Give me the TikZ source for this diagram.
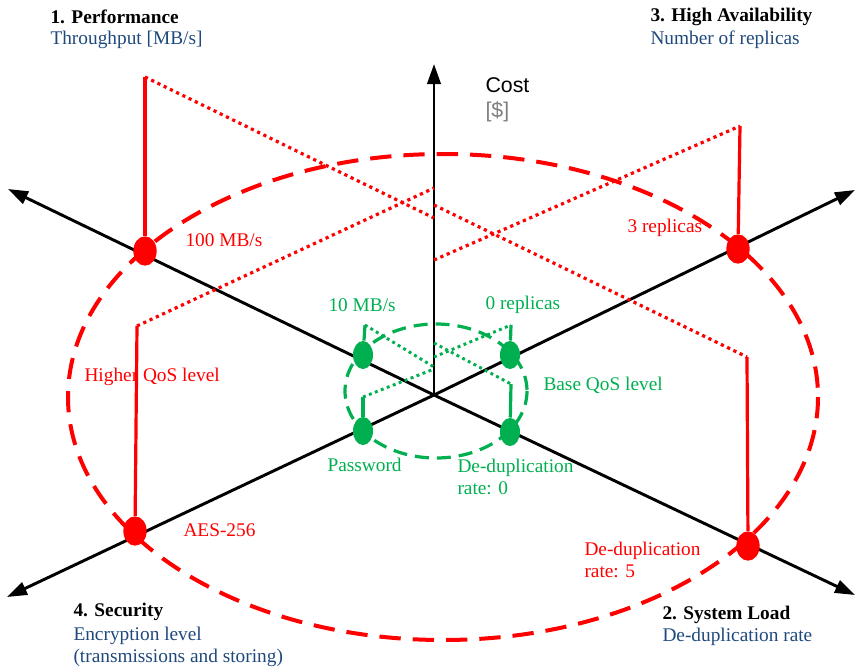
\documentclass[tikz,border=0pt]{standalone}
\usepackage{fontspec}
\setmainfont{Liberation Serif}
\setsansfont{Liberation Sans}
\usetikzlibrary{arrows.meta,shapes.geometric}

\definecolor{qred}{RGB}{255,0,0}
\definecolor{qgreen}{RGB}{0,176,80}
\definecolor{axisblue}{RGB}{31,73,125}
\definecolor{unitgrey}{RGB}{127,127,127}

\tikzset{every picture/.style={line width=0.75pt}}
\tikzset{
  axisline/.style={line width=2.2pt, black, -{Triangle[length=15pt,width=10pt]}},
  redring/.style={qred, line width=3pt, dash pattern=on 16pt off 9pt},
  greenring/.style={qgreen, line width=2.4pt, dash pattern=on 10.5pt off 6pt},
  redstem/.style={qred, line width=2.4pt},
  greenstem/.style={qgreen, line width=2.4pt},
  redlink/.style={qred, line width=2.4pt, dash pattern=on 2.4pt off 2.8pt},
  greenlink/.style={qgreen, line width=2.2pt, dash pattern=on 2.2pt off 2.6pt},
  redpin/.style={ellipse, fill=qred, minimum width=17.5pt, minimum height=22pt, inner sep=0pt},
  greenpin/.style={ellipse, fill=qgreen, minimum width=15pt, minimum height=21pt, inner sep=0pt},
  lbl/.style={anchor=west, inner sep=0pt, align=left, font=\fontsize{14.5}{16.5}\selectfont},
  head/.style={lbl, font=\fontsize{14.5}{16.5}\selectfont\bfseries},
  sub/.style={lbl, text=axisblue},
  redlbl/.style={lbl, text=qred},
  greenlbl/.style={lbl, text=qgreen},
  costlbl/.style={anchor=west, inner sep=0pt, font=\sffamily\fontsize{16}{18}\selectfont}
}

\begin{document}
\begin{tikzpicture}[x=0.75pt,y=0.75pt,yscale=-1,xscale=1]
\useasboundingbox (0,0) rectangle (856,671);

% axes
\coordinate (o) at (434,395);
\coordinate (costend) at (434,64);
\coordinate (perfend) at (8,189);
\coordinate (loadend) at (855,595);
\coordinate (secuend) at (7,597);
\coordinate (availend) at (855,190);

% QoS rings
\draw[redring] (443,397) ellipse [x radius=375, y radius=243];
\draw[greenring] (436,391) ellipse [x radius=91, y radius=67];

\draw[axisline] (o) -- (costend);
\draw[axisline] (o) -- (perfend);
\draw[axisline] (o) -- (loadend);
\draw[axisline] (o) -- (secuend);
\draw[axisline] (o) -- (availend);

% higher QoS level
\node[redpin] (perf) at (145,251) {};
\node[redpin] (avail) at (738,249) {};
\node[redpin] (secu) at (135,531) {};
\node[redpin] (load) at (748,546) {};
\coordinate (perftop) at (145,77);
\coordinate (availtop) at (740,126);
\coordinate (secutop) at (137,326);
\coordinate (loadtop) at (747,357);
\coordinate (costp) at (434,218);
\coordinate (costl) at (434,205);
\coordinate (costs) at (434,188);
\coordinate (costa) at (434,260);

\draw[redstem] (perf) -- (perftop);
\draw[redstem] (avail) -- (availtop);
\draw[redstem] (secu) -- (secutop);
\draw[redstem] (load) -- (loadtop);
\draw[redlink] (perftop) -- (costp);
\draw[redlink] (costl) -- (loadtop);
\draw[redlink] (secutop) -- (costs);
\draw[redlink] (costa) -- (availtop);

% base QoS level
\node[greenpin] (gperf) at (363,355) {};
\node[greenpin] (gavail) at (510,355) {};
\node[greenpin] (gsecu) at (363,431) {};
\node[greenpin] (gload) at (510,432) {};
\coordinate (gperftop) at (365,325);
\coordinate (gavailtop) at (511,325);
\coordinate (gsecutop) at (363,397);
\coordinate (gloadtop) at (511,384);
\coordinate (gcostp) at (434,367);
\coordinate (gcostl) at (434,343);
\coordinate (gcosts) at (434,369);
\coordinate (gcosta) at (434,357);

\draw[greenstem] (gperf) -- (gperftop);
\draw[greenstem] (gavail) -- (gavailtop);
\draw[greenstem] (gsecu) -- (gsecutop);
\draw[greenstem] (gload) -- (gloadtop);
\draw[greenlink] (gperftop) -- (gcostp);
\draw[greenlink] (gcostl) -- (gloadtop);
\draw[greenlink] (gsecutop) -- (gcosts);
\draw[greenlink] (gcosta) -- (gavailtop);

% axis titles
\node[head] (perfhead) at (50,17) {1. Performance};
\node[sub] (perfsub) at (50,40) {Throughput [MB/s]};
\node[head] (availhead) at (650,17) {3. High Availability};
\node[sub] (availsub) at (650,40) {Number of replicas};
\node[head] (secuhead) at (73,612) {4. Security};
\node[sub] (secusub) at (73,647) {Encryption level\\(transmissions and storing)};
\node[head] (loadhead) at (662,615) {2. System Load};
\node[sub] (loadsub) at (662,637) {De-duplication rate};
\node[costlbl] (costhead) at (485,85) {Cost};
\node[costlbl, text=unitgrey] (costsub) at (485,112) {[\$]};

% values
\node[redlbl] (perfval) at (185,240) {100 MB/s};
\node[redlbl] (availval) at (627,228) {3 replicas};
\node[redlbl] (secuval) at (183,530) {AES-256};
\node[redlbl] (loadval) at (584,560) {De-duplication\\rate: 5};
\node[redlbl] (highqos) at (84,377) {Higher QoS level};
\node[greenlbl] (gperfval) at (328,305) {10 MB/s};
\node[greenlbl] (gavailval) at (485,305) {0 replicas};
\node[greenlbl] (gsecuval) at (327,465) {Password};
\node[greenlbl] (gloadval) at (457,477) {De-duplication\\rate: 0};
\node[greenlbl] (baseqos) at (543,385) {Base QoS level};

\end{tikzpicture}
\end{document}
